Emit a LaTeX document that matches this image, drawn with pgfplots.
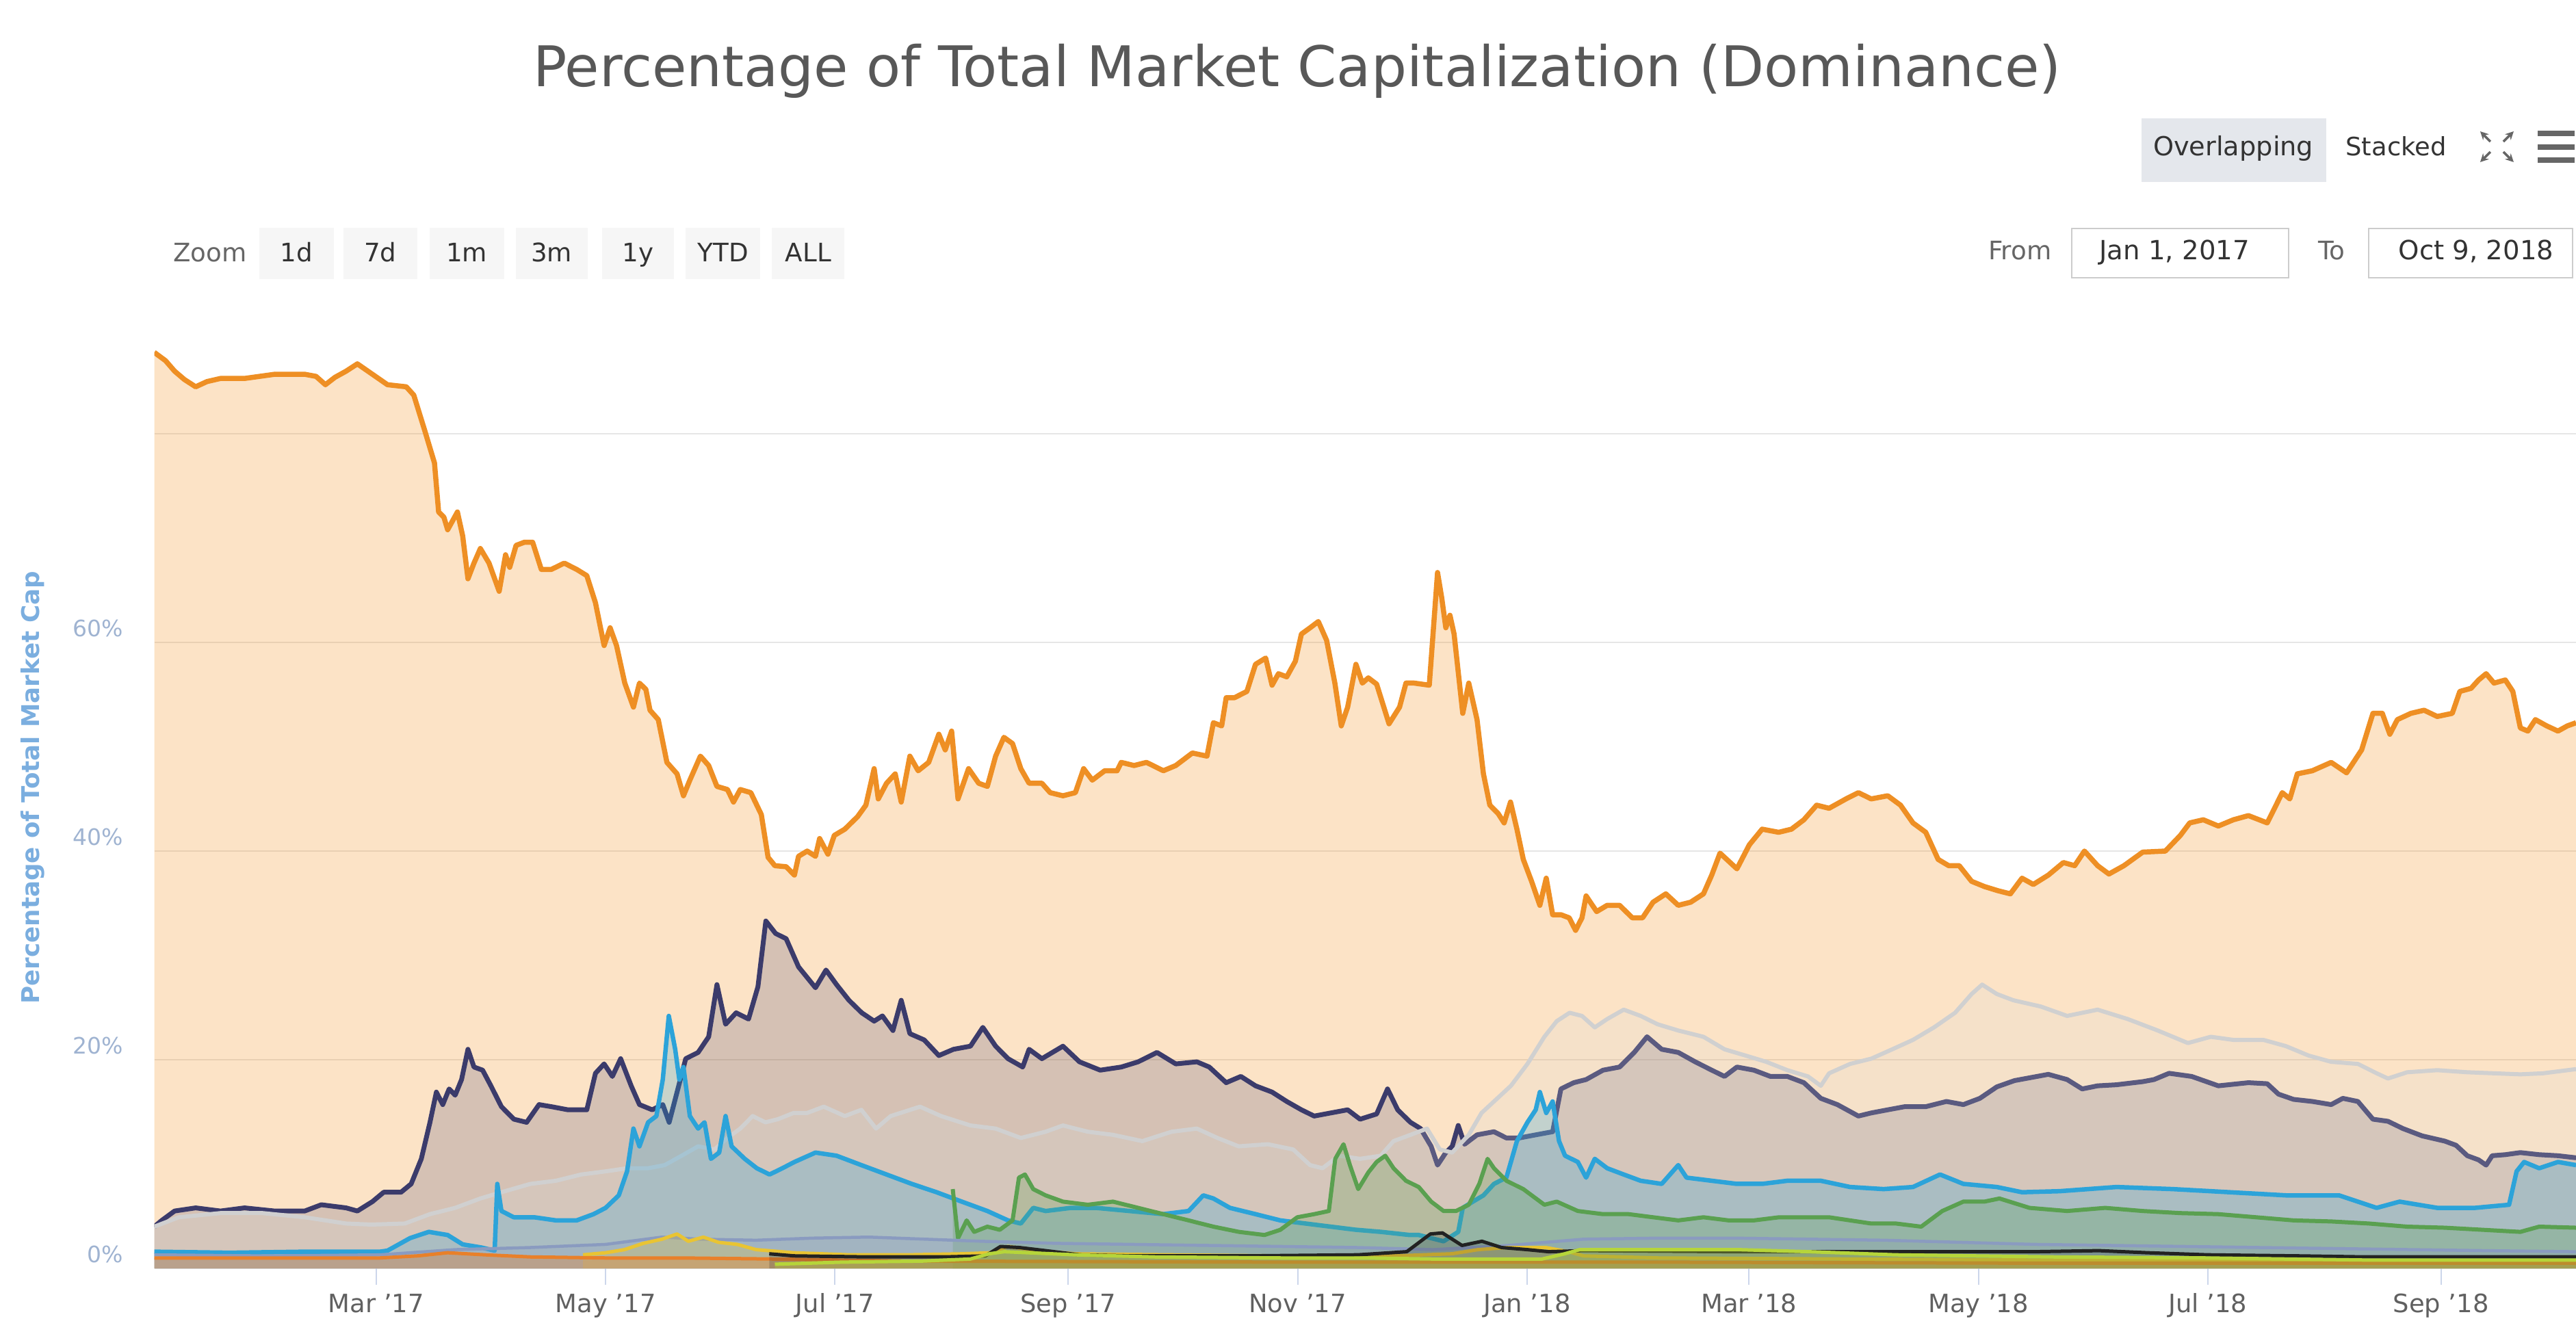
\documentclass[border=0pt]{standalone}
\usepackage{pgfplots}
\usepackage{pgfplotstable}
\pgfplotsset{compat=1.18}
\usepackage{graphicx}
\usepackage{fontspec}
\setmainfont{DejaVu Sans}
\usetikzlibrary{arrows.meta}

\definecolor{btcl}{HTML}{EE8F24}
\definecolor{btcf}{HTML}{F38F1B}
\definecolor{ethl}{HTML}{3B3B6B}
\definecolor{othl}{HTML}{D0D0D0}
\definecolor{othf}{HTML}{D8D8D8}
\definecolor{xrpl}{HTML}{2CA3D9}
\definecolor{bchl}{HTML}{5AA050}
\definecolor{ltcl}{HTML}{8A9BC0}
\definecolor{yell}{HTML}{E9C433}
\definecolor{blkl}{HTML}{222222}
\definecolor{ygrl}{HTML}{B6D53A}
\definecolor{orsl}{HTML}{E8802A}
\definecolor{gridc}{HTML}{E6E6E6}
\definecolor{tickc}{HTML}{CCD6EB}
\definecolor{xlabc}{HTML}{606060}
\definecolor{ylabc}{HTML}{9FB3D1}
\definecolor{ytitc}{HTML}{7BAEDF}
\definecolor{titc}{HTML}{585858}
\definecolor{uitxt}{HTML}{333333}
\definecolor{uigray}{HTML}{666666}
\definecolor{btnbg}{HTML}{F6F6F6}
\definecolor{selbg}{HTML}{E4E7EC}
\definecolor{boxc}{HTML}{CCCCCC}

\pgfplotstableread{
d v
0 87.8
3 87.0
5.4 86.0
8 85.2
11 84.5
14 85.0
17.6 85.3
24 85.3
32 85.7
40 85.7
43 85.5
45.5 84.7
48 85.4
51 86.0
54 86.7
58 85.7
62 84.7
67 84.5
69 83.7
72 80.2
74.5 77.2
75.6 72.5
77 72.0
78 70.8
80.6 72.5
82 70.2
83.4 66.1
85 67.6
86.7 69.0
89 67.6
91.7 64.9
93.4 68.4
94.5 67.2
96.2 69.3
98.4 69.6
100.6 69.6
102.9 67.0
105.6 67.0
109 67.6
112.3 67.0
115 66.4
117.3 63.8
119.6 59.7
121.2 61.4
122.9 59.7
125.1 56.1
127.4 53.8
129 56.1
130.7 55.5
131.8 53.5
134 52.6
136.3 48.5
139 47.4
140.7 45.3
142.4 46.8
145.2 49.1
147.4 48.2
149.6 46.2
152.4 45.9
154 44.7
155.8 45.9
158.6 45.6
161.4 43.5
163.2 39.4
165 38.6
168 38.5
170.2 37.7
171.3 39.5
173.6 40.0
175.8 39.5
176.9 41.2
179.1 39.7
180.8 41.5
183.6 42.1
187 43.3
189.2 44.4
191.4 47.9
192.5 45.0
194.7 46.5
197 47.4
198.6 44.7
200.9 49.1
203.1 47.7
205.9 48.5
208.6 51.2
210.3 49.7
212 51.5
213.7 45.0
216.5 47.9
219.2 46.5
221.5 46.2
223.7 49.1
225.9 50.9
228.2 50.3
230.4 47.9
232.6 46.5
236 46.5
238.2 45.6
241.6 45.3
244.9 45.6
247.1 47.9
249.4 46.8
252.7 47.7
256 47.7
257.1 48.5
260.5 48.2
263.8 48.5
268.3 47.7
271.6 48.2
276 49.4
279.9 49.1
281.6 52.3
283.8 52.0
285 54.7
287.2 54.7
290.5 55.3
292.8 57.9
295.5 58.5
297.2 55.9
298.9 57.0
301.1 56.7
303.4 58.2
305 60.8
307.3 61.4
309.5 62.0
311.7 60.2
313.9 56.1
315.6 52.0
317.3 53.8
319.5 57.9
321.2 56.1
322.8 56.6
325 56.0
328.3 52.2
331.1 53.8
332.8 56.1
335 56.1
339 55.9
341.2 66.7
342.3 64.3
343.4 61.4
344.5 62.6
345.6 60.8
347.9 53.2
349.5 56.1
351.7 52.6
353.4 47.4
355.1 44.4
357.3 43.6
358.9 42.7
360.6 44.7
362.3 42.1
364 39.2
366.2 37.1
368.4 34.8
370.1 37.4
371.8 33.9
374 33.9
376.2 33.6
377.9 32.4
379.6 33.6
380.7 35.7
383.5 34.2
386.3 34.8
389.6 34.8
393 33.6
395.7 33.6
398.5 35.1
401.9 35.9
405.2 34.8
408.5 35.1
411.9 35.9
414.1 37.7
416.3 39.8
420.8 38.3
424.1 40.6
427.5 42.1
431.9 41.8
435.3 42.1
438.6 43.0
442 44.4
445.3 44.1
449.8 45.0
453.1 45.6
456.5 45.0
460.9 45.3
464.3 44.4
467.6 42.7
471 41.8
474.3 39.2
477.1 38.6
479.9 38.6
483.2 37.1
486.6 36.6
490.2 36.2
493.5 35.9
496.6 37.4
499.6 36.8
503.6 37.7
507.6 38.9
510.6 38.6
513.2 40.0
516.7 38.6
519.7 37.8
523.7 38.6
528.7 39.9
534.7 40.0
538.7 41.5
541.2 42.7
544.8 43.0
548.8 42.4
552.8 43.0
556.8 43.4
561.8 42.7
565.8 45.6
567.8 45.0
569.8 47.4
573.8 47.7
578.8 48.5
582.9 47.5
586.9 49.7
589.9 53.2
592.4 53.2
594.4 51.2
596.4 52.6
600 53.2
603.5 53.5
607 52.9
611 53.2
613 55.3
616 55.6
618 56.4
620 57.0
622.1 56.1
625.1 56.4
627.1 55.3
629.1 51.8
631.1 51.5
633.1 52.6
636.1 52.0
639.1 51.5
641.6 52.0
643.9 52.3
}\btc

\pgfplotstableread{
d v
0 4.0
2 4.6
5.4 5.5
11 5.8
17.6 5.5
24 5.8
32 5.5
40 5.5
44.4 6.1
51 5.8
54 5.5
58 6.4
61 7.3
65.6 7.3
68.3 8.1
71 10.5
73.3 14.0
75 16.9
76.7 15.7
78.4 17.2
80 16.6
81.7 18.1
83.4 21.0
85 19.3
87.3 19.0
89.5 17.5
92.3 15.5
95.6 14.3
99 14.0
102.3 15.7
105.6 15.5
110 15.2
115 15.2
117.3 18.7
119.6 19.6
121.8 18.4
124 20.1
126.8 17.5
129 15.7
132.4 15.2
135.2 15.7
136.9 14.0
139 16.9
141.3 20.1
144.6 20.7
147.4 22.2
149.6 27.2
151.9 23.4
154.7 24.5
158 23.9
160.5 27.0
162.6 33.3
165.2 32.1
168 31.6
171.3 28.9
175.8 26.9
178.6 28.6
181.4 27.2
184.7 25.7
188.1 24.5
191.4 23.7
193.6 24.2
196.4 22.8
198.6 25.7
200.9 22.5
204.7 21.9
208.6 20.4
212.5 21.0
217 21.3
220.3 23.1
223.7 21.3
227 20.1
230.9 19.3
232.6 21.0
236 20.1
241.6 21.3
246 19.8
251.5 19.0
257.1 19.3
261.6 19.8
266.6 20.7
271.6 19.6
277.2 19.8
280.5 19.3
285 17.8
288.9 18.4
292.8 17.5
297.2 16.9
301.1 16.0
305 15.2
308.4 14.6
312.8 14.9
317.3 15.2
320.6 14.3
325 14.8
327.9 17.2
330.6 15.2
334 14.0
336.7 13.4
339.5 11.7
341.2 9.9
343.4 11.1
345.1 11.7
346.7 13.7
348.4 11.9
351.7 12.8
356.2 13.1
359.5 12.5
362.9 12.5
367.3 12.8
371.8 13.1
374 17.2
377.4 17.8
380.7 18.1
385.2 19.0
389.6 19.3
393.5 20.7
396.9 22.2
400.8 21.0
405.2 20.7
409.7 19.8
414.1 19.0
417.5 18.4
420.8 19.3
425.3 19.0
429.7 18.4
434.2 18.4
438.6 17.8
443.1 16.3
447.5 15.7
453.1 14.6
456.5 14.9
460.9 15.2
465.4 15.5
471 15.5
476.5 16.0
481 15.7
485.4 16.3
489.9 17.4
494.6 18.0
503.6 18.6
508.6 18.1
512.6 17.2
516.7 17.5
521.7 17.6
528.7 17.9
531.7 18.1
535.7 18.7
541.7 18.4
548.8 17.5
556.8 17.8
561.8 17.7
564.8 16.7
568.8 16.2
573.8 16.0
578.8 15.7
581.9 16.3
585.9 16.0
589.9 14.3
593.9 14.1
597.9 13.4
603 12.7
609 12.2
612 11.8
615 10.8
618 10.4
620 9.9
621.6 10.8
625.1 10.9
629.1 11.1
634.1 10.9
639.1 10.8
643.9 10.6
}\eth

\pgfplotstableread{
d v
0 4.0
6.5 4.9
17.6 5.3
28.8 5.3
40 4.9
51 4.3
57.7 4.2
66.6 4.3
73.3 5.2
80 5.8
86.7 6.7
92.3 7.3
100 8.1
106.8 8.4
113.5 9.0
120 9.3
125.7 9.6
131.3 9.6
135.7 9.9
140.2 10.8
144.6 11.7
149 11.4
152.4 12.5
155.8 13.4
159.1 14.6
162.5 14.0
165.8 14.3
170 14.9
173.6 14.9
178 15.5
183.6 14.6
188 15.2
191.9 13.4
195.8 14.6
203.6 15.5
209.2 14.6
217 13.7
223.7 13.4
230.4 12.5
237 13.1
241.6 13.7
248.2 13.1
254.9 12.8
262.7 12.2
270.5 13.1
277.2 13.4
282.7 12.5
288.3 11.7
296.1 11.9
302.8 11.4
307.3 9.9
310.6 9.6
315 10.8
320.6 10.5
326.1 10.8
329.5 12.2
334 12.8
338.4 13.4
341.8 11.4
345.1 11.1
349.5 12.8
352.9 14.9
356.2 16.0
360.7 17.5
365.1 19.6
369.6 22.2
372.9 23.7
376.3 24.5
379.6 24.2
383 23.1
386.3 23.9
390.7 24.8
395.2 24.2
399.7 23.4
405.2 22.8
411.9 22.2
417.5 21.0
423.1 20.4
428.6 19.8
434.2 19.0
439.7 18.4
443.1 17.5
445.3 18.7
450.9 19.6
456.5 20.1
462.1 21.0
467.6 21.9
473.2 23.1
478.8 24.5
483.2 26.3
486 27.2
489.9 26.3
494.3 25.7
501.6 25.1
508.6 24.2
516.7 24.8
524.7 23.9
532.7 22.8
540.7 21.6
546.8 22.2
552.8 21.9
560.8 21.9
566.8 21.3
572.8 20.4
578.8 19.8
585.9 19.6
590.9 18.7
593.9 18.2
599 18.8
607 19.0
615 18.8
622.1 18.7
629.1 18.6
635.1 18.7
643.9 19.1
}\oth

\pgfplotstableread{
d v
0 1.6
20 1.5
40 1.6
60 1.6
62 1.7
68 2.9
73 3.5
78 3.2
82 2.3
87 2.0
90.5 1.7
91.2 8.1
92.3 5.5
95.6 4.9
101 4.9
106.8 4.6
112.3 4.6
116.8 5.2
120 5.8
123.5 7.0
125.7 9.3
127.4 13.4
129 11.7
131.3 14.0
133.5 14.6
135.2 18.1
136.8 24.2
138.5 21.0
139.6 18.1
140.7 19.3
142.4 14.6
144.6 13.4
146.3 14.0
148 10.5
150.2 11.1
151.9 14.6
153.5 11.7
157 10.5
160.2 9.6
163.6 9.0
167 9.6
170.2 10.2
175.8 11.1
181.4 10.8
188 9.9
194.7 9.0
201.4 8.1
208 7.3
214.7 6.4
221.5 5.5
227 4.6
230.4 4.3
233.7 5.8
237 5.5
243.7 5.8
250.4 5.8
259.3 5.5
268.3 5.2
275 5.5
278.9 7.0
281.6 6.7
286 5.8
292.8 5.2
299.4 4.6
306.1 4.3
312.8 4.0
319.5 3.7
326.2 3.5
333.8 3.2
336.2 3.2
342.8 2.6
346.7 3.5
347.9 5.8
350.6 6.4
353.4 7.0
356.2 8.1
359.5 8.7
362.3 12.2
365.1 14.0
367.3 15.2
368.4 16.9
370.1 14.9
371.8 16.0
373.5 12.2
375.1 10.8
378.5 10.2
380.7 8.7
383 10.5
386.3 9.6
390.7 9.0
395.2 8.4
400.8 8.1
405.2 9.9
407.4 8.7
414.1 8.4
420.8 8.1
427.5 8.1
434.2 8.4
443.1 8.4
450.9 7.8
459.8 7.6
467.6 7.8
474.8 9.0
481 8.1
489.9 7.8
496.6 7.3
506.6 7.4
521.7 7.8
536.7 7.6
551.8 7.3
566.8 7.0
580.9 7.0
590.9 5.8
597 6.4
607 5.8
617 5.8
626.1 6.1
628.1 9.3
630.1 10.2
634.1 9.6
639.1 10.2
643.9 9.9
}\xrp

\pgfplotstableread{
d v
212.3 7.6
213.7 2.9
216 4.6
218 3.5
221.5 4.0
224.8 3.7
228.2 4.6
229.9 8.7
231.5 9.0
233.7 7.6
237 7.0
241.6 6.4
248.2 6.1
254.9 6.4
261.6 5.8
268.3 5.2
275 4.6
281.6 4.0
288.4 3.5
295.2 3.2
299.4 3.7
303.9 4.9
308.4 5.2
312.3 5.5
314 10.5
316.2 11.9
317.9 9.9
320.1 7.6
322.8 9.2
325 10.2
327.3 10.8
329.5 9.6
332.8 8.4
336.2 7.8
339.5 6.4
342.8 5.5
346.1 5.5
349.5 6.1
352.3 8.1
354.5 10.5
356.2 9.6
359.5 8.4
364 7.6
369.6 6.1
372.9 6.4
378.5 5.5
385.2 5.2
392 5.2
398.5 4.9
405.2 4.6
411.9 4.9
418.6 4.6
425.3 4.6
432 4.9
438.6 4.9
445.3 4.9
450.9 4.6
456.5 4.3
463.1 4.3
469.8 4.0
475.4 5.5
481 6.4
486.6 6.4
490.6 6.7
498.6 5.8
508.6 5.5
518.7 5.8
528.7 5.5
538.7 5.3
548.8 5.2
558.8 4.9
568.8 4.6
578.8 4.5
588.9 4.3
599 4.0
609 3.9
619 3.7
629.1 3.5
634.1 4.0
643.9 3.9
}\bch

\pgfplotstableread{
d v
0 1.3
30 1.2
60 1.3
80 1.8
100 2.0
120 2.3
135 3.0
145 2.8
160 2.7
175 2.9
190 3.0
205 2.8
220 2.6
240 2.4
260 2.3
280 2.2
300 2.1
320 2.0
340 1.8
360 2.2
380 2.8
400 2.9
420 2.9
440 2.8
460 2.7
480 2.5
500 2.3
520 2.2
540 2.1
560 2.0
580 1.9
600 1.8
620 1.7
643.9 1.6
}\ltc

\pgfplotstableread{
d v
114 1.3
120 1.5
125 1.8
130 2.4
135 2.8
139 3.3
142 2.6
146 3.0
150 2.5
155 2.3
160 1.8
170 1.5
185 1.3
200 1.3
215 1.4
222 1.5
227 2.1
235 1.7
245 1.4
270 1.3
300 1.2
330 1.2
345 1.4
352 1.8
360 2.0
370 2.0
376 1.6
380 1.2
400 1.0
450 0.9
500 0.8
560 0.7
643.9 0.6
}\yel

\pgfplotstableread{
d v
0 1.0
40 1.0
60 1.0
70 1.2
78 1.5
88 1.3
100 1.1
120 1.0
140 1.0
165 0.9
200 0.7
300 0.6
400 0.6
500 0.5
643.9 0.5
}\ors

\pgfplotstableread{
d v
163.5 1.4
170 1.2
190 1.1
210 1.1
221 1.2
225 2.1
230 2.0
237 1.7
246 1.3
260 1.2
290 1.2
320 1.3
333 1.6
339.3 3.3
342.5 3.4
347.7 2.2
353 2.6
358.2 2.0
365 1.8
370.7 1.6
380 1.7
420 1.6
450 1.6
483 1.6
500 1.6
517 1.7
530 1.5
546 1.3
570 1.2
588 1.1
643.9 1.1
}\blk

\pgfplotstableread{
d v
165 0.4
183 0.6
204 0.7
217 0.9
222 1.4
226 1.6
245 1.3
266 1.1
300 1.0
322 1.0
340 0.9
369 0.9
375 1.4
379 1.8
400 1.8
421 1.8
440 1.6
463 1.3
505 1.1
546 1.0
588 0.8
643.9 0.8
}\ygr

\begin{document}
\begin{tikzpicture}
\useasboundingbox (0,0) rectangle (37.65cm,19.27cm);
\begin{axis}[
  at={(2.255cm,0.73cm)}, anchor=south west,
  scale only axis, width=35.395cm, height=13.725cm,
  xmin=0, xmax=643.9, ymin=0, ymax=90,
  axis line style={draw=none},
  xtick={59,120,181,243,304,365,424,485,546,608},
  xticklabels={Mar '17,May '17,Jul '17,Sep '17,Nov '17,Jan '18,Mar '18,May '18,Jul '18,Sep '18},
  ytick={0,20,40,60,80},
  yticklabels={0\%,20\%,40\%,60\%,{}},
  ymajorgrids,
  major grid style={draw=gridc, line width=0.02cm},
  tick pos=left,
  tick align=outside,
  major tick length=0.24cm,
  xtick style={draw=tickc, line width=0.02cm},
  ytick style={draw=none},
  xticklabel style={font=\fontsize{10.5}{12}\selectfont, text=xlabc, anchor=base, inner sep=0pt, yshift=-0.40cm},
  yticklabel style={font=\fontsize{9.4}{11}\selectfont, text=ylabc, anchor=base east, inner sep=0pt, xshift=-0.21cm, yshift=0.09cm},
  line join=round,
]
\addplot[draw=none, fill=btcf, fill opacity=0.25] table {\btc} \closedcycle;
\addplot[btcl, line width=0.075cm] table {\btc};
\addplot[draw=none, fill=ethl, fill opacity=0.2] table {\eth} \closedcycle;
\addplot[ethl, line width=0.07cm] table {\eth};
\addplot[draw=none, fill=othf, fill opacity=0.2] table {\oth} \closedcycle;
\addplot[othl, line width=0.06cm] table {\oth};
\addplot[draw=none, fill=xrpl, fill opacity=0.25] table {\xrp} \closedcycle;
\addplot[xrpl, line width=0.065cm] table {\xrp};
\addplot[draw=none, fill=bchl, fill opacity=0.25] table {\bch} \closedcycle;
\addplot[bchl, line width=0.06cm] table {\bch};
\addplot[draw=none, fill=ltcl, fill opacity=0.25] table {\ltc} \closedcycle;
\addplot[ltcl, line width=0.045cm] table {\ltc};
\addplot[draw=none, fill=yell, fill opacity=0.25] table {\yel} \closedcycle;
\addplot[yell, line width=0.05cm] table {\yel};
\addplot[draw=none, fill=orsl, fill opacity=0.35] table {\ors} \closedcycle;
\addplot[orsl, line width=0.05cm] table {\ors};
\addplot[draw=none, fill=blkl, fill opacity=0.2] table {\blk} \closedcycle;
\addplot[blkl, line width=0.05cm] table {\blk};
\addplot[draw=none, fill=ygrl, fill opacity=0.3] table {\ygr} \closedcycle;
\addplot[ygrl, line width=0.05cm] table {\ygr};
\end{axis}

\begin{scope}[x=0.01cm,y=0.01cm]
% title
\node[anchor=base, text=titc, inner sep=0pt] at (1897,1802)
  {\resizebox{22.33cm}{!}{Percentage of Total Market Capitalization (Dominance)}};
% y axis title
\node[rotate=90, text=ytitc, inner sep=0pt] at (48,776.5)
  {\resizebox{6.33cm}{!}{\bfseries Percentage of Total Market Cap}};
% zoom row
\node[anchor=base, text=uigray, inner sep=0pt, font=\fontsize{10.6}{12}\selectfont] at (307,1545.5) {Zoom};
\foreach \a/\b/\t in {379/488/1d,502/610/7d,628/737/1m,754/859/3m,880/986/1y,1003/1112/YTD,1129/1235/ALL}{
  \fill[btnbg] (\a,1520) rectangle (\b,1595);
  \node[anchor=base, text=uitxt, inner sep=0pt, font=\fontsize{10.6}{12}\selectfont] at ({(\a+\b)/2},1545.5) {\t};
}
% overlapping / stacked
\fill[selbg] (3131.7,1662) rectangle (3402,1755);
\node[anchor=base, text=uitxt, inner sep=0pt, font=\fontsize{10.9}{12}\selectfont] at (3266,1700) {Overlapping};
\node[anchor=base, text=uitxt, inner sep=0pt, font=\fontsize{10.5}{12}\selectfont] at (3504,1700) {Stacked};
% expand icon
\begin{scope}[draw=uigray, line width=0.035cm]
\draw[-{Stealth[length=0.12cm,width=0.12cm]}] (3642,1706) -- (3627,1691);
\draw[-{Stealth[length=0.12cm,width=0.12cm]}] (3661,1706) -- (3676,1691);
\draw[-{Stealth[length=0.12cm,width=0.12cm]}] (3642,1721) -- (3627,1736);
\draw[-{Stealth[length=0.12cm,width=0.12cm]}] (3661,1721) -- (3676,1736);
\end{scope}
% hamburger
\fill[uigray] (3711,1729) rectangle (3765,1737);
\fill[uigray] (3711,1709) rectangle (3765,1717);
\fill[uigray] (3711,1690) rectangle (3765,1698);
% from / to
\node[anchor=base, text=uigray, inner sep=0pt, font=\fontsize{10.6}{12}\selectfont] at (2954,1548) {From};
\draw[boxc, line width=0.025cm, fill=white] (3029.6,1522) rectangle (3346.9,1594);
\node[anchor=base, text=uitxt, inner sep=0pt, font=\fontsize{11}{12}\selectfont] at (3180,1548) {Jan 1, 2017};
\node[anchor=base, text=uigray, inner sep=0pt, font=\fontsize{10.6}{12}\selectfont] at (3410,1548) {To};
\draw[boxc, line width=0.025cm, fill=white] (3463.8,1522) rectangle (3762,1594);
\node[anchor=base, text=uitxt, inner sep=0pt, font=\fontsize{11}{12}\selectfont] at (3621,1548) {Oct 9, 2018};
\end{scope}
\end{tikzpicture}
\end{document}
